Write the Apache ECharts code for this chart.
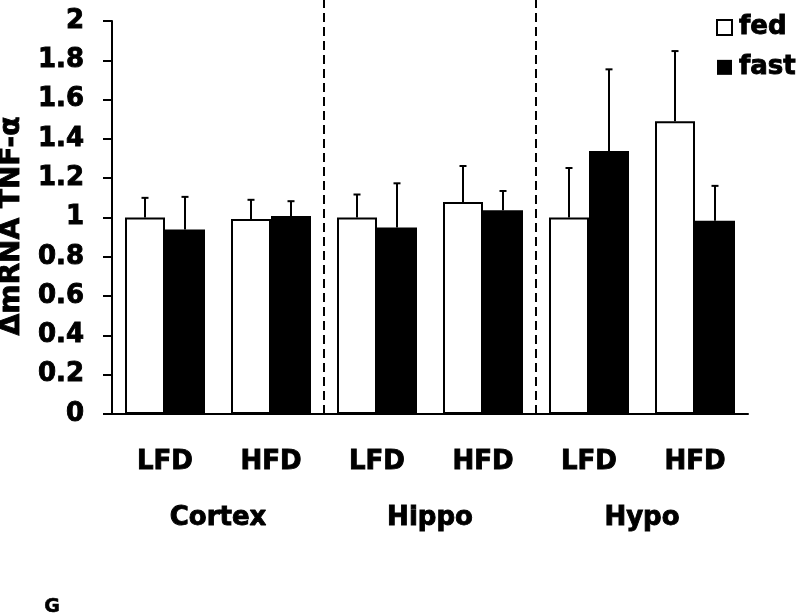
<!DOCTYPE html>
<html>
<head>
<meta charset="utf-8">
<script src="https://cdn.jsdelivr.net/npm/echarts@6/dist/echarts.min.js"></script>
<style>
  html, body { margin: 0; padding: 0; background: #fff; }
  #chart { width: 800px; height: 615px; }
</style>
</head>
<body>
<div id="chart"></div>
<script>
const categories = ['LFD', 'HFD', 'LFD', 'HFD', 'LFD', 'HFD'];
const regions = ['Cortex', 'Hippo', 'Hypo'];
const seriesNames = ['fed', 'fast'];
const fedValues = [1.0, 0.993, 1.0, 1.079, 1.0, 1.49];
const fedErrors = [0.10, 0.097, 0.117, 0.183, 0.252, 0.357];
const fastValues = [0.939, 1.007, 0.949, 1.037, 1.339, 0.983];
const fastErrors = [0.166, 0.076, 0.225, 0.098, 0.415, 0.178];
const dividers = [2, 4];
const yAxisTitle = 'ΔmRNA TNF-α';
const panelLabel = 'G';

const FONT = '"DejaVu Sans", Verdana, sans-serif';
const BAR_W = 40;
const HEAVY = { textBorderColor: '#000', textBorderWidth: 0.9 };

const chart = echarts.init(document.getElementById('chart'), null, { renderer: 'canvas' });

function errorData(values, errors, side) {
  return values.map((v, i) => [i, v, errors[i], side]);
}

function renderError(params, api) {
  const x = api.value(0);
  const v = api.value(1);
  const e = api.value(2);
  const side = api.value(3);
  const base = api.coord([x, v]);
  const top = api.coord([x, v + e]);
  const cx = base[0] + side * BAR_W / 2;
  return {
    type: 'group',
    children: [
      { type: 'line', shape: { x1: cx, y1: base[1], x2: cx, y2: top[1] }, style: { stroke: '#000', lineWidth: 2 } },
      { type: 'line', shape: { x1: cx - 3.5, y1: top[1], x2: cx + 3.5, y2: top[1] }, style: { stroke: '#000', lineWidth: 2 } }
    ]
  };
}

const dividerSeries = dividers.map(d => ({
  type: 'line',
  name: 'divider' + d,
  xAxisIndex: 2,
  yAxisIndex: 0,
  data: [[d, 0], [d, 2.11]],
  symbol: 'none',
  clip: false,
  silent: true,
  z: 1,
  lineStyle: { color: '#000', width: 2, type: [9, 5] }
}));

chart.setOption({
  animation: false,
  backgroundColor: '#fff',
  grid: { left: 112, right: 52, top: 21, bottom: 201, containLabel: false },
  legend: {
    data: [
      { name: 'fed', itemStyle: { color: '#fff', borderColor: '#000', borderWidth: 2 } },
      { name: 'fast', itemStyle: { color: '#000', borderColor: '#000', borderWidth: 0 } }
    ],
    orient: 'vertical',
    left: 716,
    top: 14,
    padding: 0,
    icon: 'rect',
    itemWidth: 15,
    itemHeight: 15,
    itemGap: 13,
    textStyle: Object.assign({ fontFamily: FONT, fontWeight: 'bold', fontSize: 26, color: '#000', lineHeight: 26, padding: [0, 0, 0, 2] }, HEAVY)
  },
  xAxis: [
    {
      type: 'category',
      data: categories,
      position: 'bottom',
      axisLine: { show: true, lineStyle: { color: '#000', width: 2 } },
      axisTick: { show: false },
      axisLabel: Object.assign({ margin: 35, fontFamily: FONT, fontWeight: 'bold', fontSize: 26, color: '#000' }, HEAVY),
      splitLine: { show: false }
    },
    {
      type: 'category',
      data: regions,
      position: 'bottom',
      axisLine: { show: false },
      axisTick: { show: false },
      axisLabel: Object.assign({ margin: 91, fontFamily: FONT, fontWeight: 'bold', fontSize: 26, color: '#000' }, HEAVY),
      splitLine: { show: false }
    },
    {
      type: 'value',
      min: 0,
      max: categories.length,
      show: false,
      position: 'bottom'
    }
  ],
  yAxis: {
    type: 'value',
    min: 0,
    max: 2,
    interval: 0.2,
    axisLine: { show: true, lineStyle: { color: '#000', width: 2 } },
    axisTick: { show: true, inside: false, length: 9, lineStyle: { color: '#000', width: 2 } },
    axisLabel: Object.assign({ margin: 28, fontFamily: FONT, fontWeight: 'bold', fontSize: 26, color: '#000' }, HEAVY),
    splitLine: { show: false }
  },
  graphic: [
    {
      type: 'text',
      x: 12,
      y: 226,
      rotation: Math.PI / 2,
      style: {
        text: yAxisTitle,
        font: 'bold 28px ' + FONT,
        fill: '#000',
        align: 'center',
        verticalAlign: 'middle',
        stroke: '#000',
        lineWidth: 0.9
      }
    },
    {
      type: 'text',
      left: 44,
      top: 597,
      style: { text: panelLabel, font: 'bold 19px ' + FONT, fill: '#000', stroke: '#000', lineWidth: 0.6 }
    }
  ],
  series: [
    {
      name: 'fed',
      type: 'bar',
      xAxisIndex: 0,
      data: fedValues,
      barWidth: BAR_W,
      barGap: '0%',
      itemStyle: { color: '#fff', borderColor: '#000', borderWidth: 2 },
      z: 2
    },
    {
      name: 'fast',
      type: 'bar',
      xAxisIndex: 0,
      data: fastValues,
      barWidth: BAR_W,
      barGap: '0%',
      itemStyle: { color: '#000', borderColor: '#000', borderWidth: 0 },
      z: 2
    },
    {
      name: 'fedErr',
      type: 'custom',
      xAxisIndex: 0,
      data: errorData(fedValues, fedErrors, -1),
      renderItem: renderError,
      z: 3,
      silent: true
    },
    {
      name: 'fastErr',
      type: 'custom',
      xAxisIndex: 0,
      data: errorData(fastValues, fastErrors, 1),
      renderItem: renderError,
      z: 3,
      silent: true
    }
  ].concat(dividerSeries)
});
</script>
</body>
</html>
